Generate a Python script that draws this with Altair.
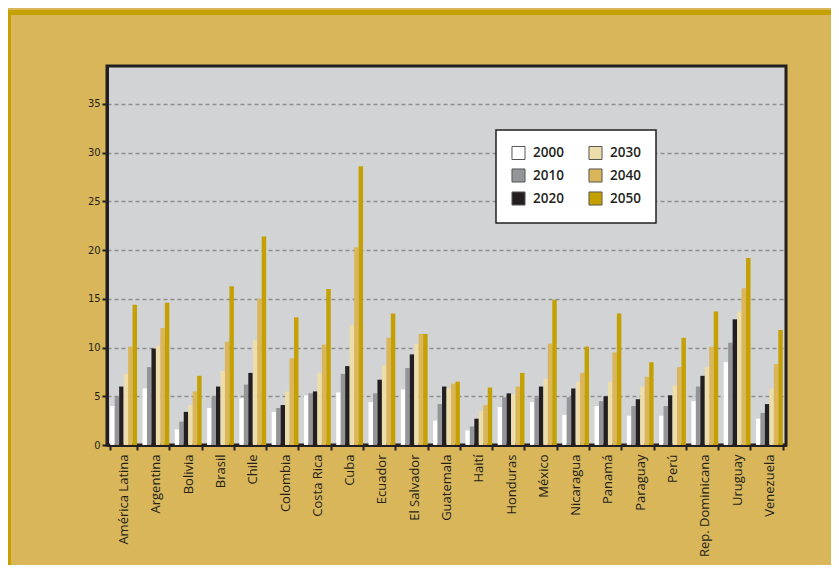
import altair as alt
import pandas as pd

countries = ["América Latina", "Argentina", "Bolivia", "Brasil", "Chile", "Colombia",
             "Costa Rica", "Cuba", "Ecuador", "El Salvador", "Guatemala", "Haití",
             "Honduras", "México", "Nicaragua", "Panamá", "Paraguay", "Perú",
             "Rep. Dominicana", "Uruguay", "Venezuela"]
years = ["2000", "2010", "2020", "2030", "2040", "2050"]

v2000 = [4.0, 5.8, 1.6, 3.8, 4.8, 3.4, 5.1, 5.4, 4.4, 5.7, 2.5, 1.5, 3.9, 4.4, 3.1, 4.0, 3.0, 3.0, 4.5, 8.5, 2.7]
v2010 = [5.0, 8.0, 2.4, 5.0, 6.2, 3.8, 5.3, 7.3, 5.3, 7.9, 4.2, 1.9, 4.9, 4.9, 4.9, 4.5, 4.0, 4.0, 6.0, 10.5, 3.3]
v2020 = [6.0, 9.9, 3.4, 6.0, 7.4, 4.1, 5.5, 8.1, 6.7, 9.3, 6.0, 2.7, 5.3, 6.0, 5.8, 5.0, 4.7, 5.1, 7.1, 12.9, 4.2]
v2030 = [7.3, 10.2, 4.1, 7.6, 10.8, 5.5, 7.4, 12.3, 8.2, 10.4, 5.8, 3.5, 5.2, 6.8, 6.5, 6.5, 6.0, 6.1, 8.0, 13.7, 5.8]
v2040 = [10.1, 12.0, 5.5, 10.6, 15.0, 8.9, 10.3, 20.3, 11.0, 11.4, 6.3, 4.1, 6.0, 10.4, 7.4, 9.5, 7.0, 8.0, 10.1, 16.1, 8.3]
v2050 = [14.4, 14.6, 7.1, 16.3, 21.4, 13.1, 16.0, 28.6, 13.5, 11.4, 6.5, 5.9, 7.4, 14.9, 10.1, 13.5, 8.5, 11.0, 13.7, 19.2, 11.8]

series = dict(zip(years, [v2000, v2010, v2020, v2030, v2040, v2050]))
colors = {"2000": "#FFFFFF", "2010": "#939598", "2020": "#231F20",
          "2030": "#EDDDAA", "2040": "#DAB55A", "2050": "#C4A002"}

rows = []
for y in years:
    for c, v in zip(countries, series[y]):
        rows.append({"país": c, "año": y, "valor": v})
df = pd.DataFrame(rows)

W, H = 679, 379
PL, PT, PR, PB = 99, 58, 45, 120

bars = alt.Chart(df).mark_bar().encode(
    x=alt.X("país:N", sort=countries, title=None,
            scale=alt.Scale(paddingInner=0.17, paddingOuter=0.1),
            axis=alt.Axis(labelAngle=-90, labelAlign="right", labelBaseline="middle",
                          tickBand="extent", labelPadding=4, labelFont="Open Sans",
                          labelFontSize=13, labelColor="#231F20", tickColor="#231F20",
                          tickWidth=2, tickSize=5, domainColor="#231F20", domainWidth=3,
                          grid=False)),
    xOffset=alt.XOffset("año:N", sort=years, scale=alt.Scale(domain=years, paddingInner=0, paddingOuter=0)),
    y=alt.Y("valor:Q", title=None,
            scale=alt.Scale(domain=[0, 38.9], nice=False),
            axis=alt.Axis(values=[0, 5, 10, 15, 20, 25, 30, 35], tickColor="#231F20",
                          tickWidth=2, tickSize=5, labelPadding=2,
                          labelFont="Liberation Sans Narrow, DejaVu Sans Condensed, sans-serif",
                          labelFontSize=11, labelColor="#231F20",
                          domainColor="#231F20", domainWidth=3,
                          grid=True, gridColor="#8E8E8E", gridDash=[4, 3], gridWidth=1.5)),
    color=alt.Color("año:N",
                    scale=alt.Scale(domain=years, range=[colors[k] for k in years]),
                    legend=alt.Legend(title=None, orient="none", legendX=389, legendY=64,
                                      columns=2, direction="vertical",
                                      fillColor="#FFFFFF", strokeColor="#231F20",
                                      padding=15, rowPadding=4, columnPadding=22,
                                      symbolType="square", symbolSize=170,
                                      symbolStrokeColor="#555555", symbolStrokeWidth=1,
                                      labelFont="Open Sans", labelFontSize=13.5,
                                      labelFontWeight=600, labelColor="#231F20",
                                      labelOffset=7)),
)

frame = pd.DataFrame({"k": [0]})
top_border = alt.Chart(frame).mark_rule(color="#C4A000", strokeWidth=5).encode(
    x=alt.value(-PL), x2=alt.value(W + PR), y=alt.value(-PT + 4.5))
left_border = alt.Chart(frame).mark_rule(color="#C4A000", strokeWidth=3).encode(
    x=alt.value(-PL + 1.5), y=alt.value(-PT + 2), y2=alt.value(H + PB))

chart = alt.layer(top_border, left_border, bars).properties(
    width=W, height=H,
    autosize=alt.AutoSizeParams(type="none"),
    padding={"left": PL, "top": PT, "right": PR, "bottom": PB},
    background="#D8B659",
).configure_view(
    fill="#D1D3D4", stroke="#231F20", strokeWidth=3
).configure_legend(
    strokeWidth=1.5
)

chart.save("out.html", embed_options={"renderer": "svg", "actions": False})
